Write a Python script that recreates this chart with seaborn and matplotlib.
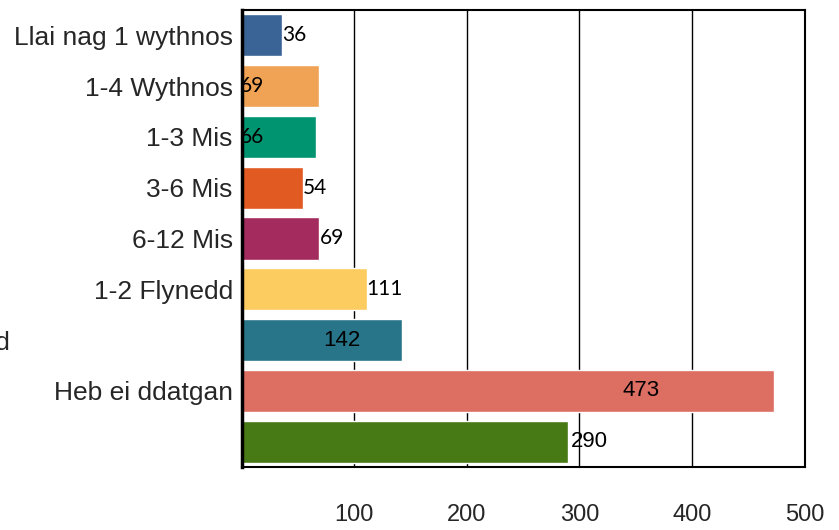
import matplotlib
matplotlib.use("Agg")
import matplotlib.pyplot as plt
import seaborn as sns
import pandas as pd

# categorïau a gwerthoedd
categories = ["Llai nag 1 wythnos", "1-4 Wythnos", "1-3 Mis", "3-6 Mis", "6-12 Mis",
              "1-2 Flynedd", "Dros 2 Flynedd", "Heb ei ddatgan", "Arall"]
values = [36, 69, 66, 54, 69, 111, 142, 473, 290]
colors = ["#3A6496", "#F0A354", "#009471", "#E05A21", "#A32B5E",
          "#FDCC60", "#28758A", "#DC6E62", "#477A14"]

# where each value label sits (data x) and how it is anchored
label_x = [36, -1.5, -1.5, 54, 69, 111, 89, 355, 292]
label_ha = ["left", "left", "left", "left", "left", "left", "center", "center", "left"]
label_font = ["Lato", "Lato", "Lato", "Lato", "Lato", "Lato",
              "Liberation Sans", "Liberation Sans", "Liberation Sans"]
label_size = [15, 15, 15, 15, 15, 15, 16, 16, 16]

df = pd.DataFrame({"Cyfnod": categories, "Nifer": values})

sns.set_style("white")
plt.rcParams["font.family"] = ["Liberation Sans", "DejaVu Sans"]

fig = plt.figure(figsize=(8.39, 5.3), dpi=100)
ax = fig.add_axes([0.2882, 0.1189, 0.6707, 0.8623])

sns.barplot(data=df, x="Nifer", y="Cyfnod", hue="Cyfnod", palette=colors,
            legend=False, width=0.83, saturation=1, ax=ax)

for i, v in enumerate(values):
    ax.text(label_x[i], i, str(v), ha=label_ha[i], va="center",
            fontsize=label_size[i], fontfamily=label_font[i], color="black")

ax.set_xlim(0, 500)
ax.set_ylim(8.5, -0.5)
ax.set_xticks([100, 200, 300, 400, 500])
ax.xaxis.grid(True, color="black", linewidth=1)
ax.set_axisbelow(True)
ax.set_xlabel("")
ax.set_ylabel("")
ax.tick_params(axis="x", length=0, pad=27, labelsize=17)
ax.tick_params(axis="y", length=0, pad=6.5, labelsize=19)

# the long label runs off the left edge, as in the source image
ticks = ax.yaxis.get_major_ticks()
ticks[6].set_pad(167)
labels = categories[:8] + [""]
ax.set_yticks(range(len(categories)))
ax.set_yticklabels(labels)

for s in ax.spines.values():
    s.set_color("black")
    s.set_linewidth(1.5)
ax.spines["left"].set_linewidth(2.5)

fig.savefig("out.png", dpi=100)
